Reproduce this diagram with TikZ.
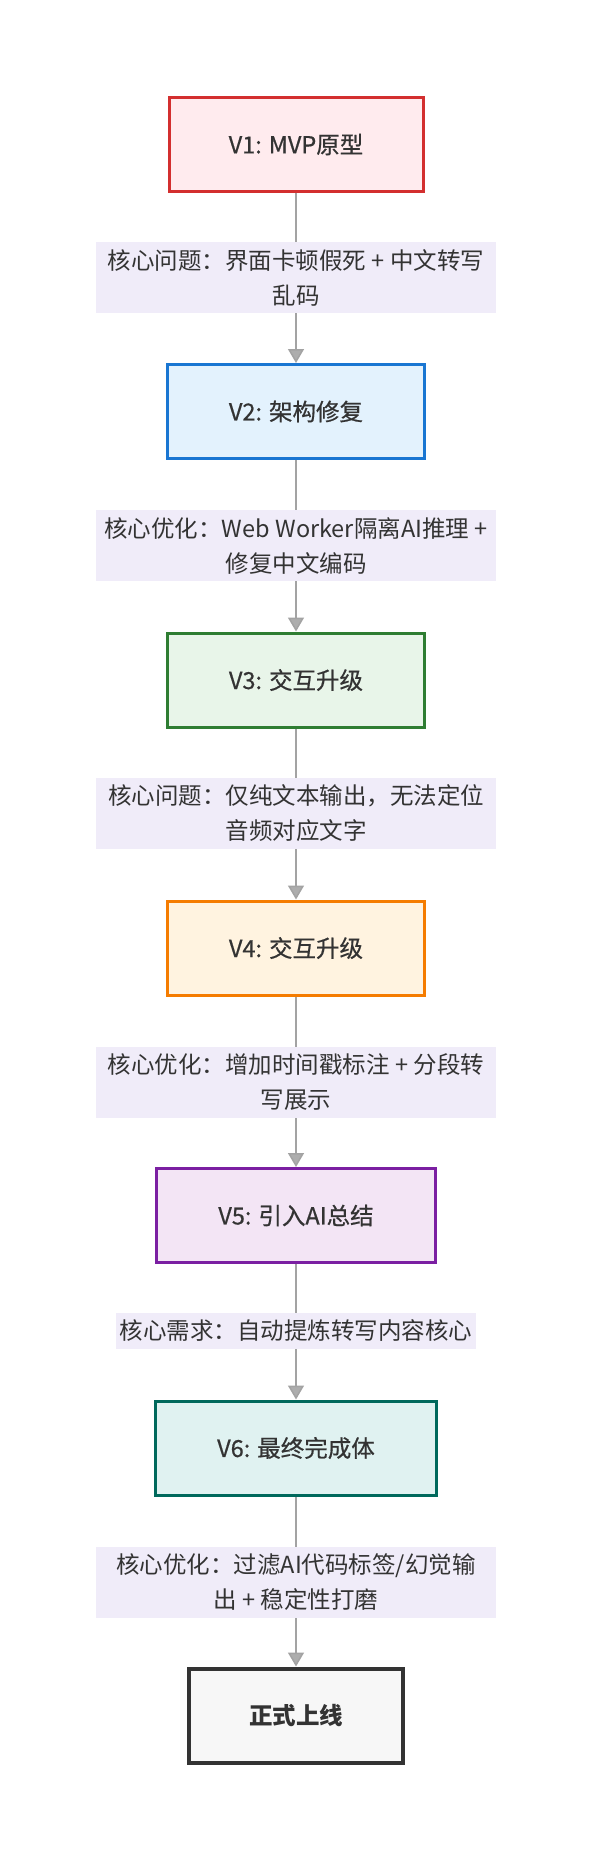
\documentclass[tikz,border=0pt]{standalone}
\usepackage{fontspec}
\setmainfont{Noto Sans CJK SC}
\newfontfamily\verfont[FakeBold=0.6]{Noto Sans CJK SC}
\usetikzlibrary{arrows.meta,backgrounds}
\definecolor{txt}{HTML}{333333}
\definecolor{labbg}{HTML}{F0ECF9}
\definecolor{edge}{HTML}{A3A3A3}
\definecolor{tipfill}{HTML}{ADADAD}
\definecolor{vonefill}{HTML}{FFEBEE}
\definecolor{voneline}{HTML}{D32F2F}
\definecolor{vtwofill}{HTML}{E3F2FD}
\definecolor{vtwoline}{HTML}{1976D2}
\definecolor{vthreefill}{HTML}{E8F5E9}
\definecolor{vthreeline}{HTML}{2E7D32}
\definecolor{vfourfill}{HTML}{FFF3E0}
\definecolor{vfourline}{HTML}{F57C00}
\definecolor{vfivefill}{HTML}{F3E5F5}
\definecolor{vfiveline}{HTML}{7B1FA2}
\definecolor{vsixfill}{HTML}{E0F2F1}
\definecolor{vsixline}{HTML}{00695C}
\definecolor{donefill}{HTML}{F7F7F7}
\definecolor{doneline}{HTML}{333333}
\begin{document}
\begin{tikzpicture}[x=1pt,y=-1pt,
  verbox/.style={draw, line width=3pt, minimum height=94pt, text=txt, font=\fontsize{23.5}{35}\selectfont\verfont},
  edgelab/.style={fill=labbg, inner sep=0pt, minimum width=400pt, minimum height=71pt, align=center, text=txt, font=\fontsize{23.5}{35}\selectfont},
  flow/.style={draw=edge, line width=1.5pt, -{Triangle[width=16pt,length=14pt,fill=tipfill]}}]
\useasboundingbox (0,0) rectangle (592,1860);
\node[verbox, draw=voneline, fill=vonefill, minimum width=254pt] (ver1) at (296,144.5){V1: MVP原型};
\node[edgelab] (lab1) at (296,277.5){核心问题：界面卡顿假死 + 中文转写\\乱码};
\node[verbox, draw=vtwoline, fill=vtwofill, minimum width=257pt] (ver2) at (296,411.5){V2: 架构修复};
\node[edgelab] (lab2) at (296,545.5){核心优化：Web Worker隔离AI推理 +\\修复中文编码};
\node[verbox, draw=vthreeline, fill=vthreefill, minimum width=257pt] (ver3) at (296,680){V3: 交互升级};
\node[edgelab] (lab3) at (296,813.5){核心问题：仅纯文本输出，无法定位\\音频对应文字};
\node[verbox, draw=vfourline, fill=vfourfill, minimum width=257pt] (ver4) at (296,948){V4: 交互升级};
\node[edgelab] (lab4) at (296,1082){核心优化：增加时间戳标注 + 分段转\\写展示};
\node[verbox, draw=vfiveline, fill=vfivefill, minimum width=279pt] (ver5) at (296,1215.5){V5: 引入AI总结};
\node[edgelab, minimum width=360pt, minimum height=36pt] (lab5) at (296,1331){核心需求：自动提炼转写内容核心};
\node[verbox, draw=vsixline, fill=vsixfill, minimum width=281pt] (ver6) at (296,1448){V6: 最终完成体};
\node[edgelab] (lab6) at (296,1582){核心优化：过滤AI代码标签/幻觉输\\出 + 稳定性打磨};
\node[verbox, draw=doneline, fill=donefill, line width=4pt, minimum width=214pt, font=\fontsize{23.5}{35}\selectfont\bfseries] (done) at (296,1715.5){正式上线};
\begin{scope}[on background layer]
\fill[white] (0,0) rectangle (592,1860);
\draw[flow](ver1) -- (ver2);
\draw[flow](ver2) -- (ver3);
\draw[flow](ver3) -- (ver4);
\draw[flow](ver4) -- (ver5);
\draw[flow](ver5) -- (ver6);
\draw[flow](ver6) -- (done);
\end{scope}
\end{tikzpicture}
\end{document}
